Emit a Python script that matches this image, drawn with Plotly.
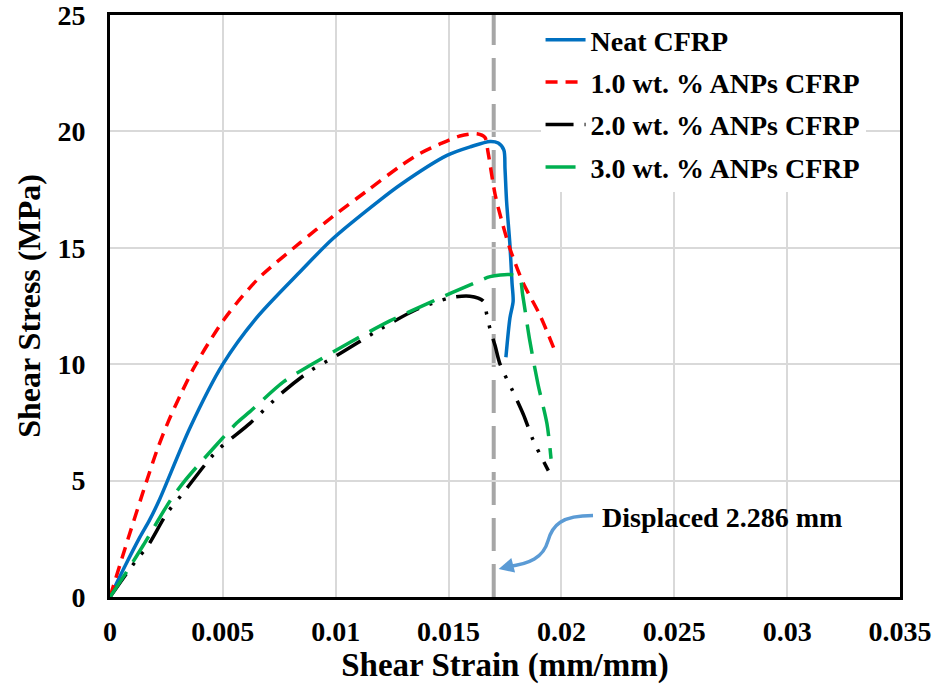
import plotly.graph_objects as go

# ---------------- data ----------------
neat_x = [0, 0.0006, 0.00133, 0.00175, 0.0022, 0.00354, 0.005, 0.0065, 0.0084, 0.00988,
          0.01196, 0.01285, 0.01493, 0.0160, 0.01684, 0.0172, 0.01745, 0.0175, 0.01757, 0.01772,
          0.01781, 0.01786, 0.01772, 0.01754]
neat_y = [0, 1.2, 2.58, 3.3, 4.2, 7.26, 10.0, 12.0, 13.95, 15.4,
          17.05, 17.7, 18.97, 19.35, 19.57, 19.5, 19.2, 18.4, 17.0, 15.1,
          13.5, 12.7, 12.0, 10.3]

anp1_x = [0, 0.0008, 0.00163, 0.0021, 0.00261, 0.00318, 0.00372, 0.00436, 0.00502, 0.00583, 0.0067,
          0.0084, 0.00988, 0.01139, 0.01285, 0.01373, 0.0146, 0.0155, 0.01626, 0.01661, 0.01675,
          0.01706, 0.0174, 0.01772, 0.0183, 0.01905, 0.01972]
anp1_y = [0, 2.5, 5.0, 6.35, 7.6, 8.8, 9.85, 10.9, 11.88, 12.88, 13.8,
          15.2, 16.35, 17.45, 18.5, 19.05, 19.45, 19.8, 19.9, 19.74, 19.1,
          17.3, 16.0, 14.96, 13.5, 12.1, 10.55]

anp2_x = [0, 0.00075, 0.00124, 0.00168, 0.00252, 0.00325, 0.00472, 0.0062, 0.00767, 0.00885, 0.01004,
          0.01196, 0.01358, 0.01506, 0.01594, 0.01654, 0.01669, 0.01684, 0.01706, 0.01728, 0.01784,
          0.01831, 0.01876, 0.01942]
anp2_y = [0, 1.03, 1.67, 2.2, 3.59, 4.48, 6.26, 7.46, 8.81, 9.7, 10.37,
          11.5, 12.35, 12.85, 12.92, 12.71, 12.14, 11.5, 10.8, 10.0, 8.85,
          7.85, 6.71, 5.43]

anp3_x = [0, 0.00075, 0.00146, 0.00266, 0.00332, 0.00472, 0.0056, 0.0062, 0.00767, 0.00885, 0.01062,
          0.0124, 0.01431, 0.01615, 0.01684, 0.01772, 0.01815, 0.01828, 0.0186, 0.01896, 0.01936,
          0.01954]
anp3_y = [0, 1.1, 2.2, 4.13, 5.0, 6.54, 7.46, 7.96, 9.23, 9.94, 10.93,
          11.86, 12.71, 13.49, 13.76, 13.85, 13.7, 13.0, 11.0, 9.15, 7.44,
          5.94]

series_names = ["Neat CFRP", "1.0 wt. % ANPs CFRP", "2.0 wt. % ANPs CFRP", "3.0 wt. % ANPs CFRP"]

x_tickvals = [0, 0.005, 0.01, 0.015, 0.02, 0.025, 0.03, 0.035]
x_ticktext = ["0", "0.005", "0.01", "0.015", "0.02", "0.025", "0.03", "0.035"]
y_tickvals = [0, 5, 10, 15, 20, 25]

displaced_strain = 0.017
annot_text = "Displaced 2.286 mm"

# ---------------- figure ----------------
FONT = "Liberation Serif, Times New Roman, serif"

fig = go.Figure()
styles = [
    dict(color="#0070C0", width=3.5, dash="solid"),
    dict(color="#FF0000", width=3.5, dash="12px,8px"),
    dict(color="#000000", width=3.5, dash="28px,11px,3px,11px,3px,11px"),
    dict(color="#00B050", width=3.5, dash="30px,12px"),
]
for i, (xs, ys) in enumerate([(neat_x, neat_y), (anp1_x, anp1_y), (anp2_x, anp2_y), (anp3_x, anp3_y)]):
    fig.add_trace(go.Scatter(
        x=xs, y=ys, mode="lines", name=series_names[i],
        line=dict(shape="spline", smoothing=0.8, **styles[i]),
        legendgroup=f"g{i}",
    ))

# vertical dashed marker line
fig.add_shape(type="line", xref="x", yref="y",
              x0=displaced_strain, x1=displaced_strain, y0=0, y1=25,
              line=dict(color="#A6A6A6", width=4, dash="33px,13px"), layer="below")

# curved arrow
fig.add_shape(type="path", xref="x", yref="y",
              path="M 0.0214,3.5 C 0.0200,3.5 0.0196,3.1 0.0194,2.4 C 0.0192,1.7 0.0186,1.42 0.0176,1.3",
              line=dict(color="#5B9BD5", width=3.5))
fig.add_annotation(x=0.01722, y=1.2, ax=0.0177, ay=1.32, xref="x", yref="y", axref="x", ayref="y",
                   showarrow=True, arrowhead=2, arrowsize=1, arrowwidth=3, arrowcolor="#5B9BD5", text="")
fig.add_annotation(x=0.0217, y=3.42, xref="x", yref="y", text=annot_text, showarrow=False,
                   xanchor="left", yanchor="middle",
                   font=dict(family=FONT, size=28, color="black", weight="bold"))

fig.update_layout(
    width=934, height=689,
    margin=dict(l=110, r=34, t=15, b=92, autoexpand=False),
    paper_bgcolor="white", plot_bgcolor="white",
    font=dict(family=FONT, size=28, color="black", weight="bold"),
    showlegend=True,
    legend=dict(x=0.545, y=1.0, xanchor="left", yanchor="top", bgcolor="white",
                font=dict(family=FONT, size=28, color="black", weight="bold"),
                itemwidth=40, tracegroupgap=3, traceorder="grouped"),
)
fig.update_xaxes(range=[0, 0.035], tickvals=x_tickvals, ticktext=x_ticktext, automargin=False,
                 showgrid=True, gridcolor="#D9D9D9", gridwidth=1.5, zeroline=False,
                 showline=True, linecolor="black", linewidth=3, mirror=True, ticks="",
                 ticklabelstandoff=7, ticklabeloverflow="allow",
                 tickfont=dict(family=FONT, size=28, color="black", weight="bold"),
                 title=dict(text="Shear Strain (mm/mm)", standoff=0,
                            font=dict(family=FONT, size=33, color="black", weight="bold")))
fig.update_yaxes(range=[0, 25], tickvals=y_tickvals, automargin=False,
                 showgrid=True, gridcolor="#D9D9D9", gridwidth=1.5, zeroline=False,
                 showline=True, linecolor="black", linewidth=3, mirror=True, ticks="",
                 ticklabelstandoff=16, ticklabeloverflow="allow",
                 tickfont=dict(family=FONT, size=28, color="black", weight="bold"),
                 title=dict(text="Shear Stress (MPa)", standoff=8,
                            font=dict(family=FONT, size=32, color="black", weight="bold")))

fig.write_html("out.html")
